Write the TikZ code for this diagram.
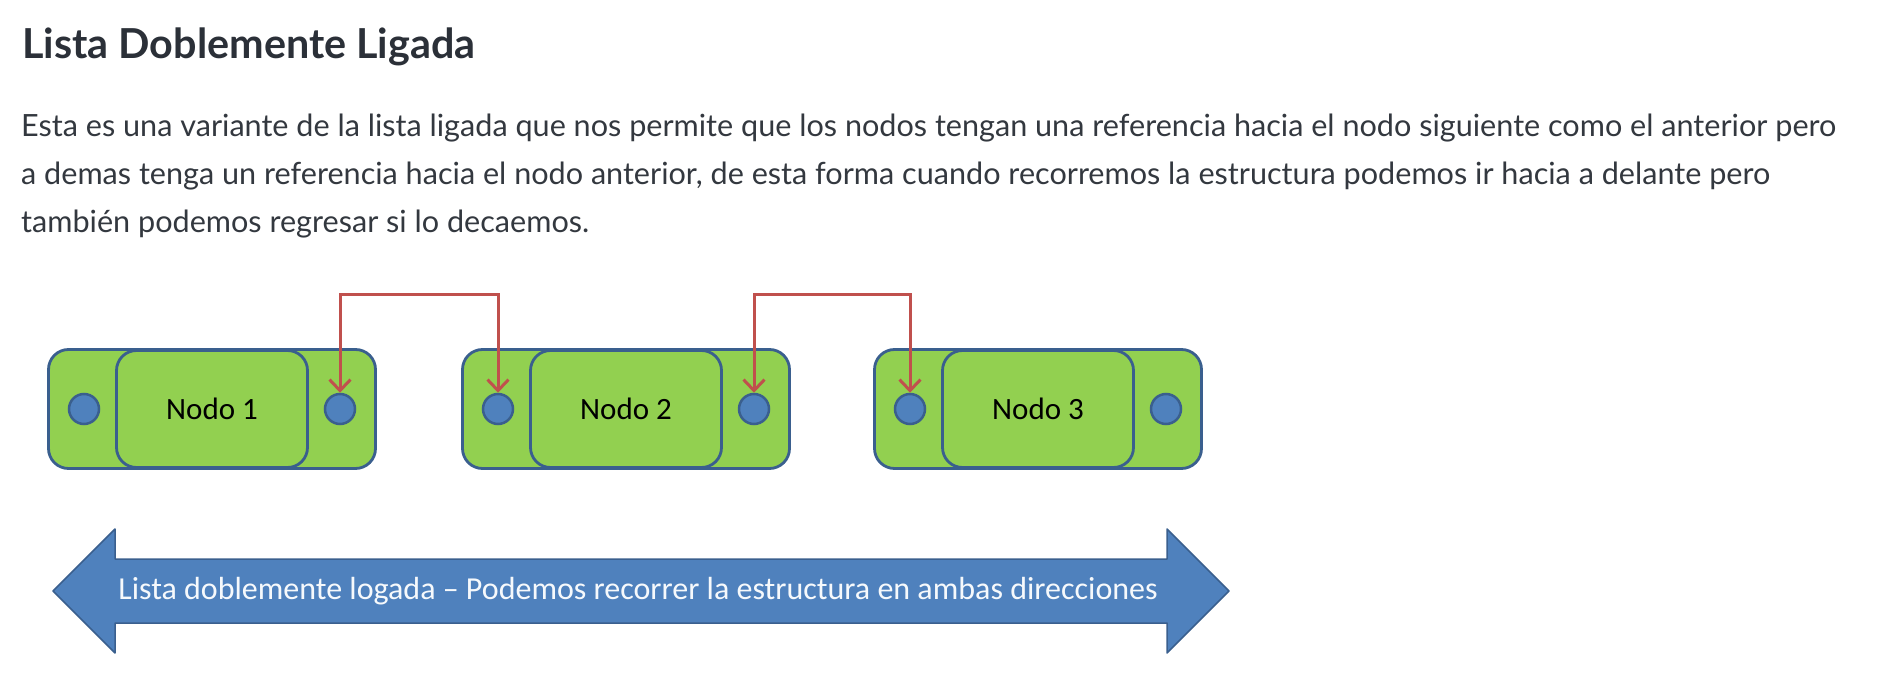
\documentclass[tikz,border=0pt]{standalone}
\usepackage{fontspec}
\setmainfont{Lato}
\newfontfamily\calibri{Carlito}
\usetikzlibrary{arrows.meta}

\definecolor{nodogreen}{HTML}{92D050}
\definecolor{officeblue}{HTML}{4F81BD}
\definecolor{officeline}{HTML}{3A5F8E}
\definecolor{officered}{HTML}{C0504D}
\definecolor{titletext}{HTML}{2B3038}
\definecolor{bodytext}{HTML}{33383F}

\tikzset{
	outerbox/.style={draw=officeline, fill=nodogreen, line width=2.8pt, rounded corners=20pt,
		minimum width=327pt, minimum height=119pt},
	innerbox/.style={draw=officeline, fill=nodogreen, line width=2.8pt, rounded corners=20pt,
		minimum width=191pt, minimum height=117pt, font=\calibri\fontsize{31}{37}\selectfont},
	refdot/.style={circle, draw=officeline, fill=officeblue, line width=2.5pt,
		minimum size=30pt, inner sep=0pt},
	link/.style={draw=officered, line width=3pt,
		{Straight Barb[length=11pt,width=21pt]}-{Straight Barb[length=11pt,width=21pt]}},
	textline/.style={anchor=base west, inner sep=0pt, text=bodytext, font=\fontsize{30.6}{36}\selectfont}
}

\begin{document}
\begin{tikzpicture}[x=1pt,y=-1pt]
	\useasboundingbox[fill=white] (0,0) rectangle (1888,684);
	% titulo y parrafo
	\node[anchor=base west, inner sep=0pt, text=titletext, font=\bfseries\fontsize{41.3}{48}\selectfont] (titulo) at (22,59) {Lista Doblemente Ligada};
	\node[textline] (linea1) at (21,137) {Esta es una variante de la lista ligada que nos permite que los nodos tengan una referencia hacia el nodo siguiente como el anterior pero};
	\node[textline] (linea2) at (21,185) {a demas tenga un referencia hacia el nodo anterior, de esta forma cuando recorremos la estructura podemos ir hacia a delante pero};
	\node[textline] (linea3) at (21,233) {también podemos regresar si lo decaemos.};
	% los tres nodos
	\foreach \i/\x in {1/212,2/626,3/1038} {
		\node[outerbox] (caja\i) at (\x,409) {};
		\node[innerbox] (dato\i) at (caja\i.center) {Nodo \i};
		\node[refdot] (ant\i) at ([xshift=-128pt]caja\i.center) {};
		\node[refdot] (sig\i) at ([xshift=128pt]caja\i.center) {};
	}
	% referencias
	\draw[link] (sig1.north) -- ++(0,-98) -| (ant2.north);
	\draw[link] (sig2.north) -- ++(0,-98) -| (ant3.north);
	% flecha doble
	\draw[draw=officeline, fill=officeblue, line width=1.5pt, line join=round]
		(53,591) -- (115,529) -- (115,559) -- (1167,559) -- (1167,529) -- (1229,591)
		-- (1167,653) -- (1167,623) -- (115,623) -- (115,653) -- cycle;
	\node[text=white!95!officeblue, font=\calibri\fontsize{32}{38}\selectfont] (leyenda) at (638,591)
		{Lista doblemente logada – Podemos recorrer la estructura en ambas direcciones};
\end{tikzpicture}
\end{document}
